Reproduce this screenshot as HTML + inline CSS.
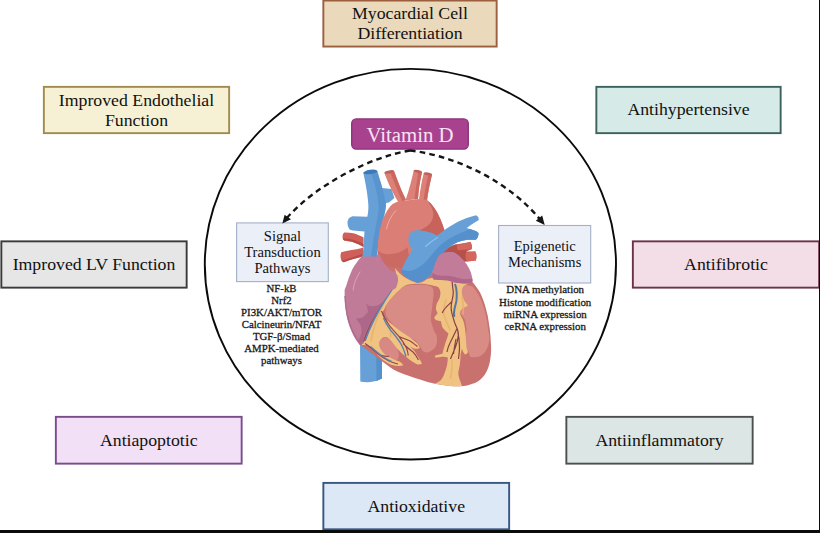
<!DOCTYPE html>
<html><head><meta charset="utf-8">
<style>
html,body{margin:0;padding:0;background:#fff;}
body{width:820px;height:533px;position:relative;overflow:hidden;font-family:"Liberation Serif",serif;color:#111;}
.b{position:absolute;box-sizing:border-box;border:1.6px solid #333;display:flex;align-items:center;justify-content:center;text-align:center;font-size:17.75px;line-height:20px;white-space:nowrap;}
.s{position:absolute;text-align:center;white-space:nowrap;-webkit-text-stroke:0.3px #1a1a1a;color:#1a1a1a;}
#art{position:absolute;left:0;top:0;}
</style></head><body>
<svg id="art" width="820" height="533" viewBox="0 0 820 533">
<g id="boxes"><rect x="323.35" y="0.55" width="173.30" height="46.0" fill="#ead9bb" stroke="#9b5e3f" stroke-width="1.9"/>
<rect x="43.85" y="86.85" width="185.30" height="46.30" fill="#f6f1d4" stroke="#a18a4e" stroke-width="1.9"/>
<rect x="596.35" y="86.85" width="184.30" height="46.30" fill="#d6ebe7" stroke="#3b625c" stroke-width="1.9"/>
<rect x="1.35" y="241.35" width="185.30" height="46.30" fill="#e6e6e6" stroke="#3a3a3a" stroke-width="1.9"/>
<rect x="632.85" y="241.35" width="186.30" height="46.30" fill="#f3dde6" stroke="#6b3348" stroke-width="1.9"/>
<rect x="55.85" y="416.85" width="185.80" height="46.80" fill="#f1e0f6" stroke="#7b4b8c" stroke-width="1.9"/>
<rect x="566.35" y="416.85" width="186.30" height="46.80" fill="#dce6e5" stroke="#4b4f50" stroke-width="1.9"/>
<rect x="323.35" y="482.9" width="185.80" height="46.4" fill="#dce8f5" stroke="#385680" stroke-width="1.9"/><rect x="351.7" y="118.9" width="116.6" height="30.2" rx="4.5" fill="#a8428f" stroke="#8c3078" stroke-width="1.3"/>
<rect x="236.6" y="222.9" width="91.7" height="58.7" fill="#ebeff8" stroke="#a5afc6" stroke-width="1.1"/>
<rect x="498.6" y="225.5" width="92.1" height="57.5" fill="#ebeff8" stroke="#a5afc6" stroke-width="1.1"/>
</g>
<ellipse cx="410.4" cy="264.2" rx="205.6" ry="195.3" fill="none" stroke="#0a0a0a" stroke-width="1.9"/>
<g id="arrows" fill="none" stroke="#151515" stroke-width="2.4" stroke-dasharray="5.6 4.2">
<path d="M410,150.5 C370.5,156.9 316.5,184.5 287,217.8"/>
<path d="M410,150.5 C462.9,156.8 513.5,186.5 540,219.5"/>
</g>
<path d="M282.4,223.4 L284.6,214.7 L291,219.2Z" fill="#151515"/>
<path d="M544.7,224.9 L535.8,220.8 L542.2,215.4Z" fill="#151515"/>

<!--HEART_START--><g id="heart">
<!-- left red stubs -->
<path d="M344.2,232.4 C347,232.3 350.3,232.6 353.3,233.2 C357,234.2 360.5,235.8 363.6,237.6 L363.5,247 C360,245 356.8,243.5 353.3,242.3 C350.3,241.4 347,240.9 344.2,240.6 Q342.2,239 342.5,236.3 Q342.6,233.6 344.2,232.4Z" fill="#cf5f58"/>
<path d="M363.5,247 C360,245 356.8,243.5 353.3,242.3 C350.3,241.4 347,240.9 344.2,240.6 Q343,239.7 342.7,238.2 C346,238.3 350,238.8 353.5,239.8 C357,240.9 360.5,242.4 363.6,244.2Z" fill="#b64d49"/>
<path d="M341.2,252.2 C344.5,251.3 348,250.6 351.6,250.1 C355,249.4 358.5,248.7 361.9,247.9 L363,247.5 L363,256.2 C359.8,257.2 356.5,258.2 353.3,259.1 C350,260.2 347,261.2 343.8,262.2 Q341.8,261.8 341.2,260 Q339.8,256 341.2,252.2Z" fill="#cf5f58"/>
<path d="M363,256.2 C359.8,257.2 356.5,258.2 353.3,259.1 C350,260.2 347,261.2 343.8,262.2 Q342.3,261.9 341.5,260.6 C345,259.6 349,258.3 353,257 C356.5,255.9 360,254.8 363,253.6Z" fill="#b64d49"/>
<!-- right red mass + stubs -->
<path d="M442,252 C446,248.5 451,245.8 455.7,244.3 L457.5,244.3 L470.5,242 Q472.6,245.5 471.6,249.3 L466,251.5 L475.2,251.6 Q477.3,255.3 475.8,260.4 L466.7,261.4 L455,263 L438,264Z" fill="#b5514b"/>
<path d="M457.2,245 L470.5,242 Q472.6,245.5 471.6,249.3 L458,250.2 Q456.3,247.5 457.2,245Z" fill="#d4665e"/>
<path d="M466,252.3 L475.2,251.6 Q477.3,255.3 475.8,260.4 L466.7,261.4 Q464.8,257 466,252.3Z" fill="#d4665e"/>
<!-- IVC -->
<path d="M360,340 L382,340 L382,378.5 Q371,384 360.3,381.5Z" fill="#66a0d6"/>
<path d="M376,340 L382,340 L382,378.5 L376.5,381Z" fill="#5690cc"/>
<!-- SVC -->
<path d="M363.4,173 C365,181 367.5,192 368.3,204 C368.6,210 368,213.5 367.3,216.8 L352.5,216.3 Q347.4,217.5 347.5,223.5 Q347.8,230 353,230.6 L364.5,231.5 C364,238 364,246 362.2,257 L377,257 C377.5,248 379,238 381.5,226 C384,214 386.5,208 386,203 L389,202.4 L394.4,198 L391.5,189 L382.3,188 C381,183 379,177 377.2,171 Z" fill="#66a0d6"/>
<path d="M377.2,171 C379,177 381,183 382.3,188 C384.5,196 386.5,203 385.5,210 C384,220 380,232 377,257 L371,257 C373,240 377,222 378.5,210 C379,198 375,184 371,172.5Z" fill="#5690cc" opacity=".75"/>
<ellipse cx="370.3" cy="171.9" rx="7.1" ry="2.1" transform="rotate(-8 370.3 171.9)" fill="#3f79b5"/>
<!-- aorta branches -->
<path d="M384.4,173 C387,180 391,190 398.8,203 L406,200 C402,192 398,182 394,171Z" fill="#dc8078"/>
<path d="M390,171.6 L394,171 C398,182 402,192 406,200 L402.5,201.5 C398,192 394,182 390,171.6Z" fill="#cb6860"/>
<ellipse cx="389.2" cy="171.9" rx="4.9" ry="1.5" transform="rotate(-10 389.2 171.9)" fill="#c0605a"/>
<path d="M413.7,170.6 C412,178 409.5,189 405.5,200.5 L418,199 C418.5,190 420,181 422,172.3Z" fill="#dc8078"/>
<path d="M418.5,171.6 L422,172.3 C420,181 418.5,190 418,199 L414.5,199.5 C415.5,190 417,180 418.5,171.6Z" fill="#cb6860"/>
<ellipse cx="417.8" cy="171.3" rx="4.2" ry="1.4" transform="rotate(10 417.8 171.3)" fill="#c0605a"/>
<path d="M423.7,173.3 C421.5,182 420,191 419,199.5 L427,200.5 C428,192 430,183 432,174.8Z" fill="#dc8078"/>
<path d="M428.5,174.2 L432,174.8 C430,183 428,192 427,200.5 L423.6,200 C424.5,192 426.5,183 428.5,174.2Z" fill="#cb6860"/>
<ellipse cx="427.9" cy="173.9" rx="4.2" ry="1.4" transform="rotate(10 427.9 173.9)" fill="#c0605a"/>
<!-- aorta arch -->
<path d="M398.8,201.5 C396,202.3 394,203.2 392.3,204.3 C389.5,207 387.3,210.2 385.6,213.6 C383.8,216.8 382.5,220.2 381.4,223.7 C380.2,227.5 379.4,231.5 378.8,235.5 C378.3,239 378,242.3 378,245.7 C377.8,248.5 377.8,251.3 378,254.1 C378.6,257.2 379.7,260 381.4,262.5 C383.5,264.7 386,266.4 389,267.6 C391.7,268.8 394.5,269.6 397.4,270.1 C399.5,270 401.2,269.4 402.5,268.4 L412,262 L446,240 C445.8,236.3 445.2,232.8 444.1,229.3 C443.7,227.8 443.2,226.3 442.7,224.9 C441.3,220.8 439.6,216.9 437.6,213.2 C435.2,208.8 432.3,204.8 428.8,201.5 L427,199.8 L419,199 L405.5,200.5Z" fill="#db7f76"/>
<path d="M428.8,201.5 C432.3,204.8 435.2,208.8 437.6,213.2 C439.6,216.9 441.3,220.8 442.7,224.9 C443.2,226.3 443.7,227.8 444.1,229.3 C445.2,232.8 445.8,236.3 446,240 L434,246 L415.6,232 C419,231 422,229.5 424.4,227.8 C427.5,226.2 429.8,224.2 431,222 C432.8,219.3 433.5,216.3 433.2,213.2 C432.8,210.2 431.8,207.5 430.2,205.1 C429.3,203.8 428.5,202.6 428.8,201.5Z" fill="#c8635b"/>
<path d="M378,250.7 C379.2,251.8 380.6,252.7 382.2,253.3 C385,254.2 387.8,254.4 390.7,254.1 C393.5,253.9 396.3,253.3 399.1,252.4 C402,251.2 404.8,249.5 407.5,247.3 L409,256 L402.5,268.4 C401.2,269.4 399.5,270 397.4,270.1 C394.5,269.6 391.7,268.8 389,267.6 C386,266.4 383.5,264.7 381.4,262.5 C379.7,260 378.6,257.2 378,254.1 C377.9,253 377.9,251.8 378,250.7Z" fill="#cb6a62"/>
<path d="M386.5,229 C388,222 391,215.5 396,210.5" stroke="#efaaa1" stroke-width="1" fill="none" stroke-linecap="round"/>
<!-- ventricle body -->
<path d="M386,266 L432,272 L471.8,281.3 C475,285 478,289 480,292.5 C482.5,297.5 484.5,303 486,309 C487.5,314 488.5,319 489,324 C490,330 490.5,335 490.8,342 C491.3,348 491.3,353 490.5,357.5 C490,362 489,366 487.5,369.5 C486,373 484,376 481.5,378.5 C479,381 476,382.8 472.5,383.8 C469.5,385 466.5,385.8 463.5,386 C459,386.4 454.5,386.3 450,386 C445,385.5 440,384.8 435,383.8 C430,382.8 425,381.3 420,379.5 C412,377 405,374.5 398.5,372 C392,369 387,365 382,361.2 L360.5,345 L352,300Z" fill="#c8716e"/>
<!-- light regions -->
<path d="M403.5,286.5 C406,285.5 409,285.2 412.5,285 C417,284.7 422,284.6 426,285 C428.5,285.4 430.8,286.2 432.5,287.4 C433.3,289.2 433.6,291 433.6,293 C433.6,295.3 433.3,297.5 433,299.8 C432.6,302.8 432.3,305.8 432,308.8 C431.5,311.8 431,314.8 430.8,317.8 C430.8,320.2 431.2,322.4 432,324.5 C432.7,326.8 433.4,329 434.2,331.3 C435,332.6 435.8,333.8 436.5,335 C437,337 437.2,339 437,341 C436.9,342.8 436.5,344.5 436,346 C435.3,347.4 434.3,348.6 433,349.5 C431.5,350.8 429.8,351.8 428,352.5 C425.2,352.8 422.8,351.8 421.5,349 C420,346 418,343 415.5,340.5 C412.5,338.8 409.5,337.5 406.5,336 C403,333.8 400,331 397.5,328.5 C394.5,326 392,323.5 390,321 C387.5,318.5 385.8,316 385.5,313.5 C385.2,311 385.5,308.5 386.3,306 C387,303.8 388,301.8 389.3,300 C391.5,297.3 394.5,295 397.5,292.5 C399.5,290.3 401.3,288 403.5,286.5Z" fill="#d98b86"/>
<path d="M465,285 C467.5,285.2 470,285.7 472.5,286.5 C476,290.5 479,295 481,300 C483,305 484.8,310 485.8,315 C487,320 487.8,325 488.2,330 C488.8,333 489.2,334 489.3,336 C489.4,340.5 488.7,344.5 487.2,348 C485.7,351.5 483.5,354.5 480.5,356 C477.5,357.3 474,357.6 471,357.2 C469.8,356 469,354.5 468.8,352.3 C467.8,350.5 467,348.5 466.5,347 C465,344 464.8,341 465,338 C466,335 466.5,332 466.5,329 C466.3,326 465.5,323 465,320 C463.5,317.8 462.6,315.5 459.8,313.5 C460,311.5 461,309.8 462.8,308.3 C465,307.5 467,306.5 468,305.3 C466,303 464.3,300.8 463.5,298.5 C462,295.5 461.5,292.5 462,289.5 C462.5,287.8 463.5,286.3 465,285Z" fill="#d98b86"/>
<path d="M381,339.5 C383,337.8 385.5,337.6 387.5,338.2 C390,339.8 392,342 394,344.5 C396,347 397.5,349.5 398.5,352 C399.5,355 399,358 397,360.2 C394,361 391,360 388.5,358.5 C385.5,356.5 383,354 381.2,351 C379.5,348 379,345 379.3,342.5 C379.6,341.3 380.2,340.3 381,339.5Z" fill="#d88984"/>
<!-- yellow fat -->
<path d="M395,268 C398,272 401,275 405,277.5 C409,280 414,282.5 418.5,283 C422,283 425,280.5 427,279 L433.5,277.5 L438,279.8 L450,280.5 L463.5,282 L471.8,282 C469,283.3 467,284.2 465,285 C463.5,286.3 462.5,287.8 462,289.5 C461.5,292.5 462,295.5 463.5,298.5 C464.3,300.8 466,303 468,305.3 C467,306.5 465,307.5 462.8,308.3 C461,309.8 460,311.5 459.8,313.5 C460.5,315.5 461.7,317.5 462.8,319.5 C464,322.5 464.6,325.5 465,328.5 C465.4,331.5 465.7,334.5 465.8,337.5 C466,340.5 466.2,343.5 466.5,347 C467,349 467.5,350.7 468,352.3 C467.3,353.5 466.3,354.2 465,354.5 C463.5,352.8 462.5,350.8 462,348.5 C461,351.5 460.6,354.5 460.5,357.5 C460.3,360 460,362.5 459.8,365 C459.3,367.5 458.7,370 458.3,372.5 C458.3,375 459,377.5 459.8,380 C460.5,382 461.3,384 462,386 C458,386.4 454,386.3 450,386 C445,385.5 440,384.8 435,383.8 C437.3,382.8 439.3,381.5 441,380 C442.7,377.7 443.9,375.2 444.8,372.5 C445.8,370 446.5,367.5 447,365 C447.5,362.5 447.8,360 447.8,357.5 C446,356.9 444.3,356.7 442.5,356.8 C440,357.2 437.5,357.5 435,357.5 C434.8,356.6 435,355.8 435.8,355.3 C438,354.9 440.3,354.4 442.5,353.8 C442.7,352.5 443,351.3 443.3,350 C444,347.5 444.8,345 445.5,342.5 C446.7,339.5 447.8,336.5 448.5,333.5 C446.3,331.8 444.3,329.8 442.5,327.5 C441.7,325.7 441.3,323.5 441,321.2 C439.3,321 437.5,320.6 435.9,320 C435,319.2 434.4,318.2 434.2,317.2 C435.4,316 436.6,314.7 437.6,313.3 C436.8,311.8 436.2,310.3 435.9,308.8 C436,306.8 436.4,304.9 437,303.1 C438.2,301.3 439.2,299.5 439.8,297.5 C440.3,295.7 440.5,293.8 440.4,291.9 C440,290.2 439.5,288.7 438.7,287.4 C437.2,286.5 435.4,286 433.5,285.8 C430,284.6 426,284 422,283.8 C417,283.6 412,283.8 408,284.5 C405,285.3 402.5,286.8 400.5,289 C397.5,292 394,295 391,298.5 C388.5,301.5 386,304.8 384.5,309 C382.8,311 382,313 382.3,315 C383,316.8 384.3,318.3 386,319.5 C388.5,321.5 391,323.5 393.5,325.5 C396,327.5 398.5,329.5 401,331.5 C404,333.5 407,335.5 410,337.5 C412.5,339.5 415,341.5 417.5,343.5 C418.6,345 419.4,346.5 419.8,348 C418,348.7 416.2,349 414.5,348.8 C413,348.2 411.5,347.4 410,346.5 C411.5,348 413,349.5 414.5,351 C416,353.5 417.5,356 419,358.5 C420.3,360.2 421.3,362 422,363.8 C420.5,364.5 419,364.7 417.5,364.5 C415,363.2 412.5,361.7 410,360 C407.5,358 405,356 402.5,354 C400.5,352 398.5,350 396.5,348 C395,346 393.5,344 392,342 C390.5,340.2 389,338.7 387.5,337.5 C386,337 384.5,337 383,337.5 C381.3,338.7 380,340.2 379.3,342 C379,344 379.3,346 380,348 C381.3,350.2 382.8,352.2 384.5,354 C387,355.8 389.5,357.3 392,358.5 C394.5,359.7 397,360.7 399.5,361.5 C401.2,362.6 402.5,363.8 403.3,365.3 C401.5,366 399.8,366.2 398,366 C395.5,365.8 393,365.3 390.5,364.5 C388,363.3 385.5,361.8 383,360 C381,358.2 379,356.2 377,354 C375.5,352 374,350 372.5,348 C370.5,346.8 368.5,345.8 366.5,345 L360,345 L363.5,343.5 C364.8,339 366.3,334.5 368,330 C370.3,325 372.8,320 375.5,315 C378.3,310 381.3,305 384.5,300 C388,295 392,290 395.5,287 L397,279 Z" fill="#f0c382"/>
<!-- coronary vessels -->
<path d="M384,303 C381,309 378,316 375.5,323 C373.5,329 372,335 371,341 M388,322 C390,327 391,332 390.5,337 M446,300 C444,305 443,310 444,315 C445.5,320 448,325 450,330 M462,296 C463,302 464,308 463,314 M452,360 C452.5,366 452,372 450.5,378" stroke="#e6b06c" stroke-width="1.6" fill="none" stroke-linecap="round" opacity=".8"/>
<path d="M397.3,279.5 C394.3,285.5 390.3,291.8 385.8,298.8 C381.3,305.8 377.3,312.8 373.8,319.8 C370.3,326.8 367.3,333.8 364.8,340.8" stroke="#5a86b8" stroke-width="2" fill="none"/>
<path d="M395.8,280.5 C392.3,286.5 388.3,292.8 384,299.3 C379.8,306.3 375.8,313.3 372.2,320.3 C368.7,327.8 365.7,334.8 363.5,341.8" stroke="#a0485a" stroke-width="1.2" fill="none"/>
<path d="M381.5,311 C383,315 385,319 388,323.5 C391,328 395,332 399,336.5 C402,340 404.5,344 406.5,348 C407.5,350.5 408,353 408.3,355.5 M399,336.5 C402,338 405.5,339 409,340.5 C412,342 415,344.5 417.5,346.5 M403,343.5 C406,346.5 409.5,349.5 413,352 C415,354 417,357 418.5,360 M365,343.5 C369,346 373,349.5 377,353 C381,356.5 385,359 389,361 C392,362.3 395,363.3 398,364 M380,355 C383,356 386,356.5 389,356.5" stroke="#94434d" stroke-width="1.15" fill="none"/>
<path d="M383.5,318 C385,322 387.5,326 390.5,330 C394,334 397.5,338.5 400.5,343 C403,347.5 404.8,352 406,356.5 M370.5,346.5 C374.5,350 378.5,353.5 382.5,356.5 C385.5,358.5 388.5,360.3 391.5,361.5" stroke="#5a80b0" stroke-width="1.4" fill="none"/>
<path d="M452.2,281.5 C452.3,285 452.9,288.5 453.3,291.9 C453.3,294.6 452.8,297.2 452.2,299.8 C451.6,302.4 451.1,305 451.1,307.6 C451.2,310 451.6,312.2 452.2,314.4 C452.9,317 453.7,319.7 454.5,322.3 C455.4,324.6 456.4,326.8 457.3,329 C458,331 458.4,333 458.4,335 C458,339 457,343 455.5,347 C454,351 452,355 450.5,359 M452,301.5 C449.5,304 447,306 445,308.5 C443.8,310 442.8,311.5 442.2,313 M457,328.5 C455,333 452.5,338 450,343 C448.5,346 447.5,349 447,352 M457.8,332 C459,337 459.5,342 459.5,347 C459.5,351 459,355 458.5,359 M456,339 C455,344 454,349 453.5,354" stroke="#8a3f47" stroke-width="1.2" fill="none"/>
<path d="M455,284 C456.2,287 456.7,290 456.7,293 C456.8,295.7 456.7,298.3 456.4,300.9 C455.9,303.6 455.2,306.2 454.5,308.8 C454,311.5 453.8,314.2 454.2,317" stroke="#52779f" stroke-width="2" fill="none"/>
<!-- pulmonary artery -->
<path d="M409.3,233.8 C410.5,232 412.5,230.8 415.2,230.4 C417.5,230.2 420,230.3 422,230.7 C424.5,231 426.5,231.5 428.7,232.1 C431.5,233 434.5,234.3 437.1,235.5 C438.2,234.7 439.4,233.8 440.5,232.9 C443.3,230.8 446.2,228.8 449,227 C451.8,225.2 454.6,223.5 457.4,222 C460.8,220.3 464.2,218.9 467.5,217.7 C470.3,216.8 473.2,215.9 476,215.2 Q479.6,216.8 478.5,220.3 C477.1,221.2 475.7,222 474.3,222.8 C471.8,224.5 469.2,226.2 466.7,227.9 C469.2,228.8 471.8,229.6 474.3,230.4 Q477,231 478.5,232.9 Q479,237 476,239.7 C473.2,239.6 470.3,239.6 467.5,239.7 C464,240.2 460.7,241 457.4,242.2 C454.5,243.6 451.7,245.3 449,247.3 C445.8,249.8 443,252.6 440.5,255.7 C439,258.5 437.6,261.3 436.3,264.2 C435,267 433.6,269.8 432.1,272.6 C430.2,275.2 427.9,277.5 425.3,279.4 C422.5,281 419.7,282.2 416.9,282.7 C413.5,281.2 410,279.5 406.8,277.7 C404.5,276.3 402.7,274.6 401.7,272.6 C401.6,270.8 401.9,269.1 402.5,267.5 C404,264 405.7,260.7 407.6,257.4 C409.3,254.6 411,251.8 412.7,249 C411.5,248.3 410.6,247.4 410.1,246.4 C409.2,244.5 408.6,242.5 408.4,240.5 C408.3,238.2 408.6,236 409.3,233.8Z" fill="#66a0d6"/>
<path d="M476,239.7 C473.2,239.6 470.3,239.6 467.5,239.7 C464,240.2 460.7,241 457.4,242.2 C454.5,243.6 451.7,245.3 449,247.3 C445.8,249.8 443,252.6 440.5,255.7 C439,258.5 437.6,261.3 436.3,264.2 C435,267 433.6,269.8 432.1,272.6 C430.2,275.2 427.9,277.5 425.3,279.4 C422.5,281 419.7,282.2 416.9,282.7 C413.5,281.2 410,279.5 406.8,277.7 C404.5,276.3 402.7,274.6 401.7,272.6 C401.6,271.5 401.8,270.5 402,269.5 C405,270.8 408.5,271.3 412,270.5 C417,269 422,265.5 426.5,261 C430.5,256.5 434,251.5 438.5,247 C443,242.5 448.5,238.5 455,235.5 C460,233.2 465,231 470,229 L474.3,230.4 Q477,231 478.5,232.9 Q479,237 476,239.7Z" fill="#5690cc"/>
<path d="M425.5,246.5 C428.5,243.5 432.5,240.5 437.5,237.5" stroke="#8fc0ea" stroke-width="1.1" fill="none" stroke-linecap="round"/>
<!-- left atrium -->
<path d="M438.8,255.7 C440.8,254 443,252.8 445.6,252.3 C448.5,251.8 451.3,251.8 454,252.3 C456.5,253.7 458.8,255.4 460.8,257.4 C463,259.5 465,261.8 466.7,264.2 C468.4,266.8 469.8,269.6 470.9,272.6 C471.8,275.4 472.4,278.2 472.6,281 L470.9,283.6 C466,283.6 460.8,283.3 455.7,282.7 C452.8,282 450,281.1 447.3,280.2 C443,280 438.3,279.8 433.8,279.4 C432.8,278.4 432.2,277.3 432.1,276 C432.3,273 432.9,270.2 433.8,267.5 C434.5,265.2 435.3,263 436.3,260.8 C437,259 437.8,257.3 438.8,255.7Z" fill="#c27c9a"/>
<path d="M433.8,279.4 C432.8,278.4 432.2,277.3 432.1,276 C432.2,275 432.3,274 432.5,273 C436,275.2 440.5,276 445,275.8 C450,275.5 454,276.5 458,278 C462,279.3 467,279.5 472.3,278.5 L472.6,281 L470.9,283.6 C466,283.6 460.8,283.3 455.7,282.7 C452.8,282 450,281.1 447.3,280.2 C443,280 438.3,279.8 433.8,279.4Z" fill="#b0668a"/>
<!-- right atrium -->
<path d="M376,255 L379.5,254 L382,260 L388,268 L392,271.5 L380,268Z" fill="#c07b98"/>
<path d="M361.5,256.5 L377,256.5 C378,262 380,265.5 383,267.5 C387,270 391,270.8 394.4,271.8 C397,274 398.3,276.5 398,279.2 C397.8,283 397,286 395.9,288 C394,289.5 392.5,289.8 391.5,290 C388,295 384.5,300 381.2,304.6 C378,309.5 375,314.5 372.4,319.3 C369.5,324.5 367,329.5 365.1,333.9 C363.5,338 362.3,342 361.5,344.9 L360,344.9 C356.5,341 354,337 352,332.4 C349,326 347,319 346,312 C345,305 344.5,297 344.6,290 C345,288.5 345.5,287.5 346,286.5 C347.5,281 349.5,275.5 352,270 C354.5,265 358,260.5 361.5,256.5Z" fill="#c07b98"/>
<path d="M391.5,290 C388,295 384.5,300 381.2,304.6 C378,309.5 375,314.5 372.4,319.3 C369.5,324.5 367,329.5 365.1,333.9 C363.5,338 362.3,342 361.5,344.9 L360,344.9 C359.2,344 358.5,343 357.8,342 C359.5,338.5 360.8,335 361.5,332.5 C361.6,330 361.3,327.5 360.5,325 C359,322.5 357.3,320.3 355.8,318.5 C358,318.6 360.3,318.3 362.4,317.5 C364.5,315.8 366.5,313.8 368,311.9 C367.6,309 366.9,306.2 366.1,303.5 C367.5,304.8 369,305.8 370.8,306.3 C373.3,306.4 375.8,306 378.3,305.3 C380.6,303.6 382.8,301.7 384.9,299.7 C387,296.5 389.2,293.2 391.5,290Z" fill="#ad6789"/>
<path d="M345,296 C345.2,302 345.8,308 347,314 C348.5,320.5 350.5,327 353.5,333 C355.5,337.3 357.8,341.3 360.7,344.9" stroke="#ae6a8c" stroke-width="1.3" fill="none"/>
<path d="M353,290 C354,283 356.5,277 360,272" stroke="#dca3bd" stroke-width="1" fill="none" stroke-linecap="round"/>
</g>
<!--HEART_END-->
</svg>
<div class="b" style="left:322.5px;top:-0.9px;width:175.0px;height:48.5px;border-color:transparent;">Myocardial Cell<br>Differentiation</div>
<div class="b" style="left:43.0px;top:86.0px;width:187.0px;height:48.0px;border-color:transparent;">Improved Endothelial<br>Function</div>
<div class="b" style="left:595.5px;top:86.0px;width:186.0px;height:48.0px;border-color:transparent;padding-bottom:1.2px;">Antihypertensive</div>
<div class="b" style="left:0.5px;top:241px;width:187.0px;height:48.0px;border-color:transparent;padding-bottom:1.2px;">Improved LV Function</div>
<div class="b" style="left:632.0px;top:240.5px;width:188.0px;height:48.0px;border-color:transparent;padding-bottom:1.2px;">Antifibrotic</div>
<div class="b" style="left:55.0px;top:416.0px;width:187.5px;height:48.5px;border-color:transparent;padding-bottom:1.2px;">Antiapoptotic</div>
<div class="b" style="left:565.5px;top:416.0px;width:188.0px;height:48.5px;border-color:transparent;padding-bottom:1.2px;">Antiinflammatory</div>
<div class="b" style="left:322.5px;top:482.2px;width:187.5px;height:48.0px;border-color:transparent;padding-bottom:1.2px;">Antioxidative</div>
<div class="b" style="left:351px;top:118px;width:118px;height:32px;border:0;color:#f9e3f3;font-size:20.8px;padding-top:1.6px;">Vitamin D</div>
<div class="b" style="left:236.1px;top:222.3px;width:92.7px;height:59.8px;border:0;font-size:14.6px;line-height:16.3px;">Signal<br>Transduction<br>Pathways</div>
<div class="b" style="left:498.1px;top:224.9px;width:93.1px;height:58.7px;border:0;font-size:14.5px;line-height:16.3px;">Epigenetic<br>Mechanisms</div>
<div class="s" style="left:231.5px;top:281.6px;width:100px;font-size:10.8px;line-height:12.07px;">NF-kB<br>Nrf2<br>PI3K/AKT/mTOR<br>Calcineurin/NFAT<br>TGF-β/Smad<br>AMPK-mediated<br>pathways</div>
<div class="s" style="left:495.2px;top:283.3px;width:100px;font-size:10.9px;line-height:12.2px;">DNA methylation<br>Histone modification<br>miRNA expression<br>ceRNA expression</div>
<div style="position:absolute;left:0;top:530px;width:820px;height:3px;background:#0b0b0b;"></div>
<div style="position:absolute;left:819px;top:0;width:1px;height:533px;background:#0b0b0b;"></div>
</body></html>
